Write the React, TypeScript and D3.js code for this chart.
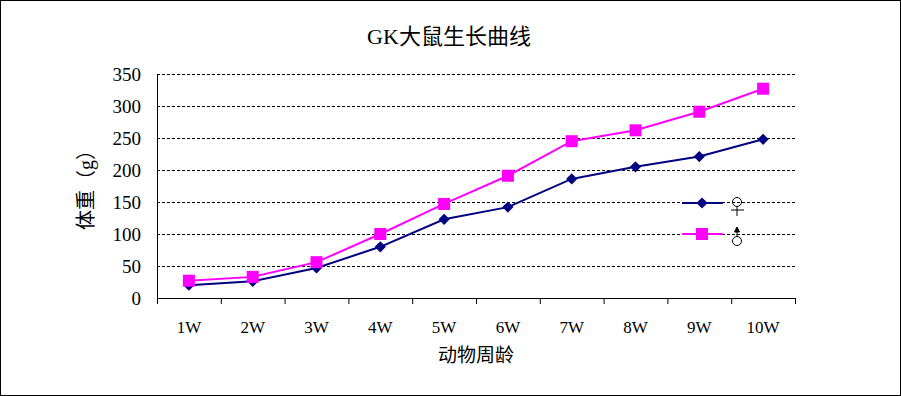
import React from 'react';
import * as d3 from 'd3';

const weeks = ['1W', '2W', '3W', '4W', '5W', '6W', '7W', '8W', '9W', '10W'];
const female = [20, 26, 47, 80, 123, 142, 186, 205, 221, 248];
const male = [27, 33, 56, 100, 147, 191, 245, 262, 291, 327];
const yTicks = [0, 50, 100, 150, 200, 250, 300, 350];

const W = 901;
const H = 396;
const margin = { left: 157, right: 106, top: 74, bottom: 98 };
const font = '"Liberation Serif", "Noto Sans CJK SC", serif';

const App = () => {
  const x = d3.scaleBand().domain(weeks).range([margin.left, W - margin.right]);
  const y = d3.scaleLinear().domain([0, 350]).range([H - margin.bottom, margin.top]);
  const cx = (d: string) => (x(d) as number) + x.bandwidth() / 2;

  const line = d3.line<number>().x((_, i) => cx(weeks[i])).y((d) => y(d));
  const diamond = d3.symbol().type(d3.symbolDiamond2).size(80)();
  const boundaries = d3.range(weeks.length + 1).map((i) => margin.left + i * x.bandwidth());

  const x0 = margin.left;
  const x1 = W - margin.right;
  const legendX = 682;

  return (
    <svg width={W} height={H} style={{ position: 'absolute', left: 0, top: 0, background: '#fff' }} fontFamily={font}>
      <rect x={0.5} y={0.5} width={W - 1} height={H - 1} fill="#fff" stroke="#000" />
      <text x={449} y={44} textAnchor="middle" fontSize={22}>GK大鼠生长曲线</text>

      {yTicks.filter((t) => t > 0).map((t) => (
        <line key={t} x1={x0} x2={x1} y1={y(t) + 0.5} y2={y(t) + 0.5} stroke="#000" strokeDasharray="3,2" />
      ))}
      <line x1={x0 + 0.5} x2={x0 + 0.5} y1={y(350)} y2={y(0)} stroke="#000" />
      <line x1={x0} x2={x1} y1={y(0) + 0.5} y2={y(0) + 0.5} stroke="#000" />
      {boundaries.map((b, i) => (
        <line key={i} x1={b + 0.5} x2={b + 0.5} y1={y(0)} y2={y(0) + 6} stroke="#000" />
      ))}

      {yTicks.map((t) => (
        <text key={t} x={141} y={y(t) + 7} textAnchor="end" fontSize={19}>{t}</text>
      ))}
      {weeks.map((w) => (
        <text key={w} x={cx(w)} y={333} textAnchor="middle" fontSize={17}>{w}</text>
      ))}
      <text x={476} y={362} textAnchor="middle" fontSize={19}>动物周龄</text>
      <text transform={`translate(93, 185) rotate(-90)`} textAnchor="middle" fontSize={20}>体重（g）</text>

      <path d={line(female) ?? ''} fill="none" stroke="#000080" strokeWidth={2} />
      {female.map((v, i) => (
        <path key={i} d={diamond ?? ''} transform={`translate(${cx(weeks[i])}, ${y(v)})`} fill="#000080" />
      ))}
      <path d={line(male) ?? ''} fill="none" stroke="#ff00ff" strokeWidth={2} />
      {male.map((v, i) => (
        <rect key={i} x={cx(weeks[i]) - 6} y={y(v) - 6} width={12} height={12} fill="#ff00ff" />
      ))}

      <line x1={legendX} x2={legendX + 41} y1={203} y2={203} stroke="#000080" strokeWidth={2} />
      <path d={diamond ?? ''} transform={`translate(${legendX + 20}, 203)`} fill="#000080" />
      <g transform="translate(737, 202)" stroke="#000" fill="none">
        <circle cx={0} cy={0} r={4.5} />
        <line x1={0} x2={0} y1={4.5} y2={14} />
        <line x1={-6} x2={7} y1={8} y2={8} />
      </g>
      <line x1={legendX} x2={legendX + 41} y1={234} y2={234} stroke="#ff00ff" strokeWidth={2} />
      <rect x={legendX + 14} y={228} width={12} height={12} fill="#ff00ff" />
      <g transform="translate(737, 241)" stroke="#000" fill="none">
        <circle cx={0} cy={0} r={4.5} />
        <line x1={0} x2={0} y1={-4.5} y2={-11} />
        <path d="M-2.5,-9 L0,-14 L2.5,-9 Z" fill="#000" />
      </g>
    </svg>
  );
};

export default App;
